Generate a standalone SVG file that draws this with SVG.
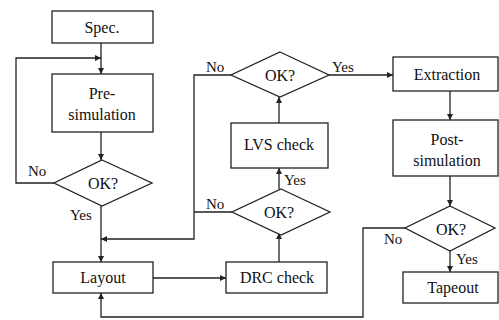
<svg xmlns="http://www.w3.org/2000/svg" width="499" height="320" viewBox="0 0 499 320">
<style>
.box{fill:#fff;stroke:#222;stroke-width:1.3}
.ln{fill:none;stroke:#222;stroke-width:1.3}
.t{font-size:16px;text-anchor:middle;fill:#111}
.l{font-size:15px;fill:#111}
</style>
<defs>
<marker id="ar" viewBox="0 0 6 6" refX="6" refY="3" markerWidth="6" markerHeight="6" markerUnits="userSpaceOnUse" orient="auto">
<path d="M0,0 L6,3 L0,6 z" fill="#222"/>
</marker>
</defs>
<g id="connectors">
<path class="ln" d="M101,43 V74" marker-end="url(#ar)"/>
<path class="ln" d="M101,132 V160" marker-end="url(#ar)"/>
<path class="ln" d="M54,183 H16 V58 H101" marker-end="url(#ar)"/>
<path class="ln" d="M101,206 V262" marker-end="url(#ar)"/>
<path class="ln" d="M153,278 H226" marker-end="url(#ar)"/>
<path class="ln" d="M279,262 V233" marker-end="url(#ar)"/>
<path class="ln" d="M279,189 V168" marker-end="url(#ar)"/>
<path class="ln" d="M279,123 V97" marker-end="url(#ar)"/>
<path class="ln" d="M329,75 H393" marker-end="url(#ar)"/>
<path class="ln" d="M231,75 H194 V239 H101" marker-end="url(#ar)"/>
<path class="ln" d="M232,212 H194"/>
<path class="ln" d="M450,91 V120" marker-end="url(#ar)"/>
<path class="ln" d="M450,176 V206" marker-end="url(#ar)"/>
<path class="ln" d="M450,251 V272" marker-end="url(#ar)"/>
<path class="ln" d="M405,228 H363 V317 H101 V293" marker-end="url(#ar)"/>
</g>
<g font-family="Liberation Serif, Times New Roman, Tinos, Noto Serif, DejaVu Serif, serif">
<g id="spec"><rect class="box" x="52" y="11" width="101" height="32"/><text class="t" x="102" y="33">Spec.</text></g>
<g id="presim"><rect class="box" x="52" y="74" width="101" height="58"/><text class="t" x="102" y="99">Pre-</text><text class="t" x="102" y="120">simulation</text></g>
<g id="ok1"><polygon class="box" points="102,160 152,183 102,206 54,183"/><text class="t" x="103" y="189">OK?</text><text class="l" x="28" y="176">No</text><text class="l" x="70" y="220">Yes</text></g>
<g id="layout"><rect class="box" x="53" y="262" width="100" height="31"/><text class="t" x="103" y="283">Layout</text></g>
<g id="drc"><rect class="box" x="226" y="262" width="101" height="31"/><text class="t" x="277" y="283">DRC check</text></g>
<g id="ok2"><polygon class="box" points="281,189 330,212 281,235 232,212"/><text class="t" x="279" y="218">OK?</text><text class="l" x="206" y="209">No</text><text class="l" x="284" y="185">Yes</text></g>
<g id="lvs"><rect class="box" x="231" y="123" width="97" height="45"/><text class="t" x="279" y="150">LVS check</text></g>
<g id="ok3"><polygon class="box" points="280,52 329,75 280,97 231,75"/><text class="t" x="280" y="81">OK?</text><text class="l" x="206" y="72">No</text><text class="l" x="332" y="72">Yes</text></g>
<g id="extraction"><rect class="box" x="393" y="57" width="105" height="34"/><text class="t" x="447" y="80">Extraction</text></g>
<g id="postsim"><rect class="box" x="393" y="120" width="105" height="56"/><text class="t" x="447" y="145">Post-</text><text class="t" x="447" y="166">simulation</text></g>
<g id="ok4"><polygon class="box" points="450,206 495,228 450,251 405,228"/><text class="t" x="451" y="235">OK?</text><text class="l" x="384" y="244">No</text><text class="l" x="456" y="264">Yes</text></g>
<g id="tapeout"><rect class="box" x="403" y="272" width="95" height="31"/><text class="t" x="453" y="293">Tapeout</text></g>
</g>
</svg>
